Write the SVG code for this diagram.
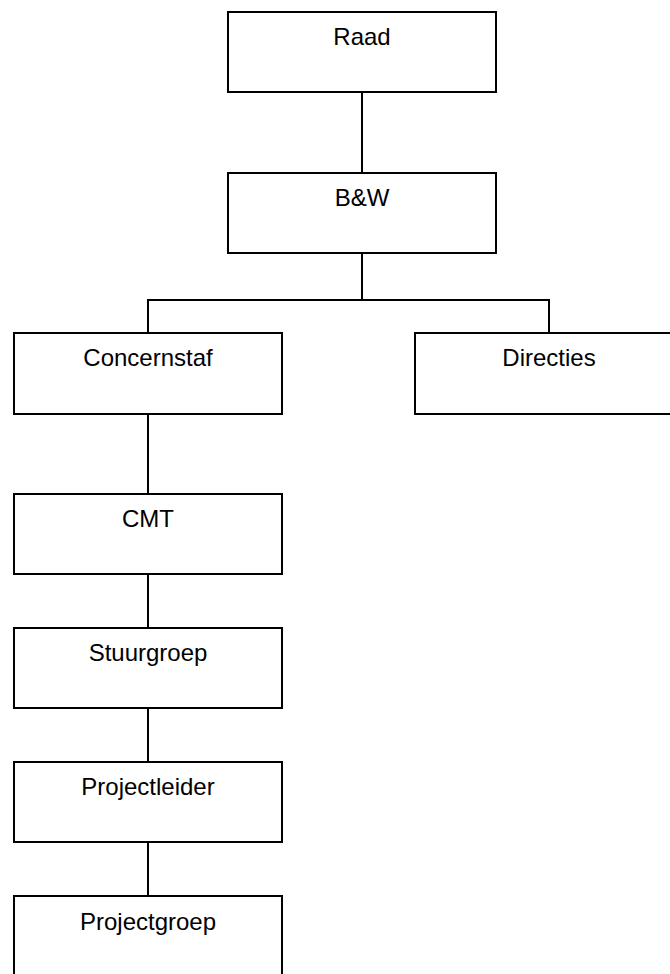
<svg xmlns="http://www.w3.org/2000/svg" width="670" height="974" viewBox="0 0 670 974">
<style>
.box{fill:#fff;stroke:#000;stroke-width:2}
.lbl{font-family:"Liberation Sans",Arial,sans-serif;font-size:24px;fill:#000;text-anchor:middle}
.con{fill:none;stroke:#000;stroke-width:2}
</style>
<rect width="670" height="974" fill="#fff"/>
<g id="connectors">
<path class="con" d="M362 92V173"/>
<path class="con" d="M362 253V300M148 333V300H549V333"/>
<path class="con" d="M148 414V494"/>
<path class="con" d="M148 574V628"/>
<path class="con" d="M148 708V762"/>
<path class="con" d="M148 842V896"/>
</g>
<g id="raad"><rect class="box" x="228" y="12" width="268" height="80"/><text class="lbl" x="362" y="45">Raad</text></g>
<g id="bw"><rect class="box" x="228" y="173" width="268" height="80"/><text class="lbl" x="362" y="206">B&amp;W</text></g>
<g id="concernstaf"><rect class="box" x="14" y="333" width="268" height="81"/><text class="lbl" x="148" y="366">Concernstaf</text></g>
<g id="directies"><rect class="box" x="415" y="333" width="268" height="81"/><text class="lbl" x="549" y="366">Directies</text></g>
<g id="cmt"><rect class="box" x="14" y="494" width="268" height="80"/><text class="lbl" x="148" y="527">CMT</text></g>
<g id="stuurgroep"><rect class="box" x="14" y="628" width="268" height="80"/><text class="lbl" x="148" y="661">Stuurgroep</text></g>
<g id="projectleider"><rect class="box" x="14" y="762" width="268" height="80"/><text class="lbl" x="148" y="795">Projectleider</text></g>
<g id="projectgroep"><rect class="box" x="14" y="896" width="268" height="82"/><text class="lbl" x="148" y="930">Projectgroep</text></g>
</svg>
